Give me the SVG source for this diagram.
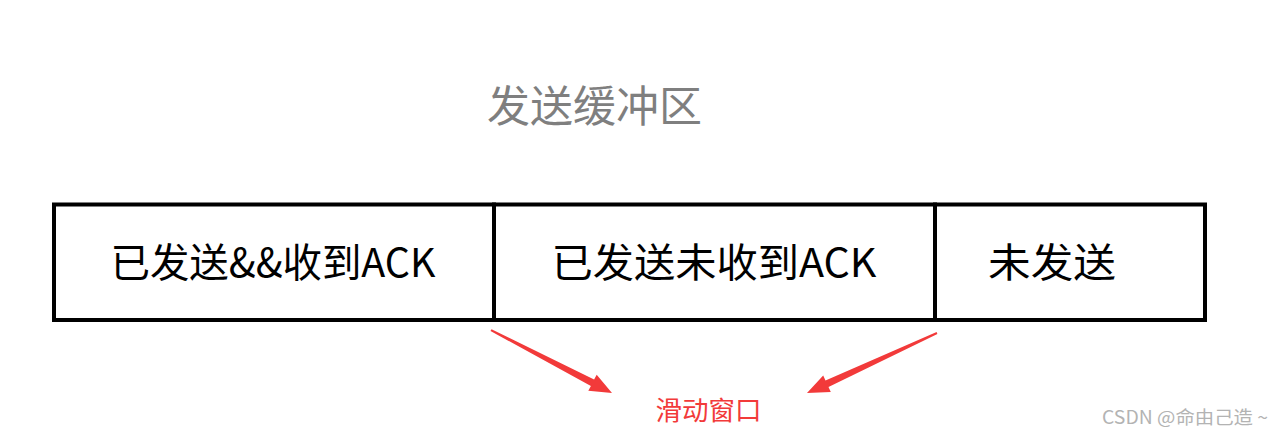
<svg xmlns="http://www.w3.org/2000/svg" width="1283" height="440" viewBox="0 0 1283 440">
<style>
.cell{fill:#fff;stroke:#000;stroke-width:4}
.lbl{font-family:"Noto Sans CJK SC","Liberation Sans",sans-serif;font-size:40px;fill:#000;text-anchor:middle}
.title{font-family:"Noto Sans CJK SC","Liberation Sans",sans-serif;font-size:43px;fill:#7f7f7f;text-anchor:middle}
.red{font-family:"Noto Sans CJK SC","Liberation Sans",sans-serif;font-size:26.5px;fill:#f23a3a;text-anchor:middle}
.arrow{fill:#f23a3a}
.wm{font-family:"Noto Sans CJK SC","Liberation Sans",sans-serif;font-size:18px;fill:#b3b3b3}
</style>
<rect width="1283" height="440" fill="#fff"/>
<g id="title"><text class="title" x="594.5" y="122">发送缓冲区</text></g>
<g id="cell-acked"><rect class="cell" x="54" y="204.5" width="440" height="115.5"/><text class="lbl" x="273" y="277" textLength="325" lengthAdjust="spacingAndGlyphs">已发送&amp;&amp;收到ACK</text></g>
<g id="cell-unacked"><rect class="cell" x="494" y="204.5" width="441" height="115.5"/><text class="lbl" x="714" y="277" textLength="325" lengthAdjust="spacingAndGlyphs">已发送未收到ACK</text></g>
<g id="cell-unsent"><rect class="cell" x="935" y="204.5" width="270" height="115.5"/><text class="lbl" x="1052" y="277" textLength="128" lengthAdjust="spacingAndGlyphs">未发送</text></g>
<g id="connectors">
<polygon class="arrow" points="490.5,331 590.9,386 588.3,390.8 612,393 596.7,374.8 594.1,379.6 491.5,329.2"/>
<polygon class="arrow" points="936.6,332.1 825.5,380.6 823.2,375.6 807,393 830.8,392 828.5,387 937.4,333.9"/>
</g>
<g id="window-label"><text class="red" x="708.5" y="420">滑动窗口</text></g>
<text class="wm" x="1102" y="424" textLength="166" lengthAdjust="spacingAndGlyphs">CSDN @命由己造 ~</text>
</svg>
